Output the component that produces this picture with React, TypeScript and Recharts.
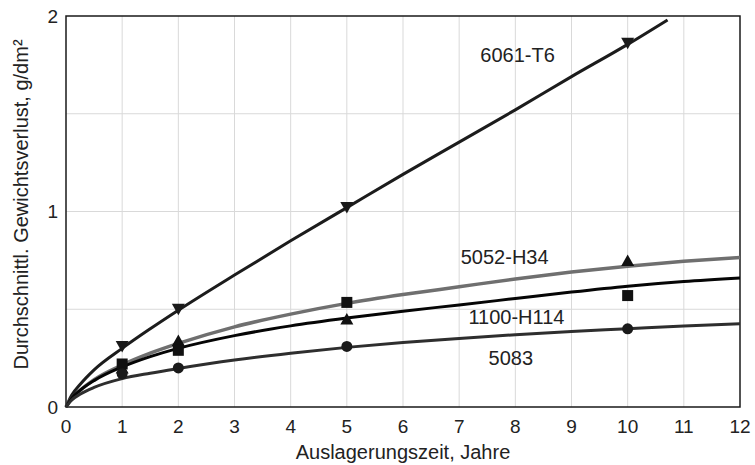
import React from 'react';
import {
  ComposedChart,
  Line,
  Scatter,
  XAxis,
  YAxis,
  CartesianGrid,
  ReferenceArea,
  ReferenceDot,
} from 'recharts';

// Fitted curves
const curveX = [0, 0.1, 0.25, 0.5, 1, 1.5, 2, 3, 4, 5, 6, 7, 8, 9, 10, 11, 12];
const x6061 = [0, 0.1, 0.25, 0.5, 1, 1.5, 2, 3, 4, 5, 6, 7, 8, 9, 10, 10.71];
const y6061 = [0, 0.06, 0.115, 0.19, 0.3, 0.4, 0.495, 0.675, 0.85, 1.02, 1.19, 1.355, 1.52, 1.69, 1.855, 1.98];
const y5052 = [0, 0.045, 0.085, 0.14, 0.215, 0.275, 0.325, 0.41, 0.475, 0.53, 0.575, 0.615, 0.655, 0.69, 0.72, 0.745, 0.765];
const y1100 = [0, 0.045, 0.085, 0.135, 0.205, 0.258, 0.3, 0.365, 0.415, 0.455, 0.49, 0.522, 0.555, 0.588, 0.618, 0.642, 0.66];
const y5083 = [0, 0.035, 0.065, 0.1, 0.145, 0.173, 0.197, 0.24, 0.275, 0.305, 0.33, 0.351, 0.37, 0.386, 0.4, 0.414, 0.426];

// Measured points
const pointX = [1, 2, 5, 10];
const p6061 = [0.31, 0.5, 1.02, 1.86];
const pTriangle = [0.2, 0.34, 0.45, 0.75];
const pSquare = [0.22, 0.29, 0.535, 0.57];
const pCircle = [0.17, 0.2, 0.31, 0.4];

const xTicks = [0, 1, 2, 3, 4, 5, 6, 7, 8, 9, 10, 11, 12];
const yTicks = [0, 1, 2];
const gridX = [1, 2, 3, 4, 5, 6, 7, 8, 9, 10, 11];
const gridY = [0.5, 1, 1.5];

const seriesLabels = [
  { name: '6061-T6', x: 8.04, y: 1.8 },
  { name: '5052-H34', x: 7.81, y: 0.77 },
  { name: '1100-H114', x: 8.02, y: 0.46 },
  { name: '5083', x: 7.92, y: 0.25 },
];

const toPts = (xs: number[], ys: number[]) => xs.map((x, i) => ({ x, y: ys[i] }));

const FONT = '"Liberation Sans", Arial, sans-serif';
const TEXT = '#222';

const DownTri = (props: any) => {
  const { cx, cy } = props;
  return <path d={`M${cx - 6.5},${cy - 5.5} L${cx + 6.5},${cy - 5.5} L${cx},${cy + 6} Z`} fill="#1a1a1a" />;
};
const UpTri = (props: any) => {
  const { cx, cy } = props;
  return <path d={`M${cx - 6.5},${cy + 5.5} L${cx + 6.5},${cy + 5.5} L${cx},${cy - 6} Z`} fill="#111" />;
};
const Sq = (props: any) => {
  const { cx, cy } = props;
  return <rect x={cx - 5.5} y={cy - 5.5} width={11} height={11} fill="#111" />;
};
const Circ = (props: any) => {
  const { cx, cy } = props;
  return <circle cx={cx} cy={cy} r={5.5} fill="#1a1a1a" />;
};

const YTitle = (props: any) => {
  const vb = props.viewBox;
  const cx = 28;
  const cy = vb.y + vb.height / 2 - 7;
  return (
    <text
      x={cx}
      y={cy}
      transform={`rotate(-90, ${cx}, ${cy})`}
      textAnchor="middle"
      fontSize={20}
      fontFamily={FONT}
      fill={TEXT}
    >
      Durchschnittl. Gewichtsverlust, g/dm²
    </text>
  );
};

export default function App() {
  return (
    <div style={{ position: 'absolute', left: 0, top: 0, background: '#fff' }}>
      <ComposedChart
        width={755}
        height={465}
        margin={{ top: 16, right: 15, bottom: 0, left: 0 }}
      >
        <CartesianGrid
          stroke="#d9d9d9"
          strokeWidth={1}
          horizontalValues={gridY}
          verticalValues={gridX}
        />
        <XAxis
          type="number"
          dataKey="x"
          domain={[0, 12]}
          ticks={xTicks}
          interval={0}
          height={58}
          axisLine={false}
          tickLine={false}
          tickMargin={7}
          tick={{ fontSize: 19, fontFamily: FONT, fill: TEXT }}
          label={{
            value: 'Auslagerungszeit, Jahre',
            position: 'insideBottom',
            offset: 6,
            fontSize: 20,
            fontFamily: FONT,
            fill: TEXT,
          }}
        />
        <YAxis
          type="number"
          dataKey="y"
          domain={[0, 2]}
          ticks={yTicks}
          interval={0}
          width={66}
          axisLine={false}
          tickLine={false}
          tick={{ fontSize: 19, fontFamily: FONT, fill: TEXT }}
          label={<YTitle />}
        />
        <Line
          data={toPts(x6061, y6061)}
          dataKey="y"
          type="monotone"
          stroke="#1c1c1c"
          strokeWidth={3}
          dot={false}
          isAnimationActive={false}
        />
        <Line
          data={toPts(curveX, y5052)}
          dataKey="y"
          type="monotone"
          stroke="#6f6f6f"
          strokeWidth={3.5}
          dot={false}
          isAnimationActive={false}
        />
        <Line
          data={toPts(curveX, y1100)}
          dataKey="y"
          type="monotone"
          stroke="#050505"
          strokeWidth={3}
          dot={false}
          isAnimationActive={false}
        />
        <Line
          data={toPts(curveX, y5083)}
          dataKey="y"
          type="monotone"
          stroke="#2e2e2e"
          strokeWidth={3}
          dot={false}
          isAnimationActive={false}
        />
        <Scatter data={toPts(pointX, p6061)} dataKey="y" shape={DownTri} isAnimationActive={false} />
        <Scatter data={toPts(pointX, pTriangle)} dataKey="y" shape={UpTri} isAnimationActive={false} />
        <Scatter data={toPts(pointX, pSquare)} dataKey="y" shape={Sq} isAnimationActive={false} />
        <Scatter data={toPts(pointX, pCircle)} dataKey="y" shape={Circ} isAnimationActive={false} />
        {seriesLabels.map((s) => (
          <ReferenceDot
            key={s.name}
            x={s.x}
            y={s.y}
            r={0}
            fill="none"
            stroke="none"
            label={{
              value: s.name,
              position: 'center',
              fontSize: 20,
              fontFamily: FONT,
              fill: TEXT,
            }}
          />
        ))}
        <ReferenceArea
          x1={0}
          x2={12}
          y1={0}
          y2={2}
          fill="none"
          stroke="#1a1a1a"
          strokeWidth={1.5}
          fillOpacity={0}
        />
      </ComposedChart>
    </div>
  );
}
